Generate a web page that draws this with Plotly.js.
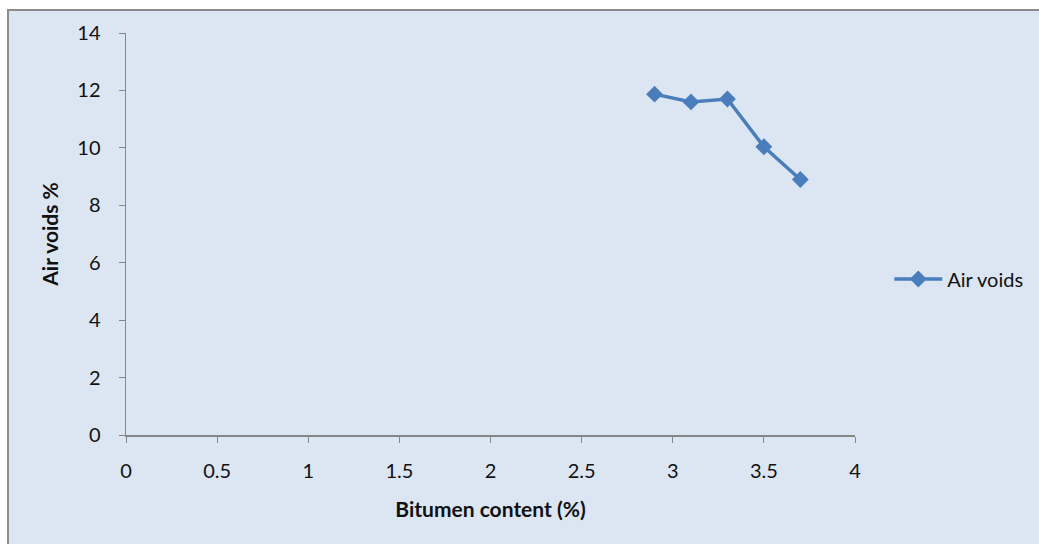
<!DOCTYPE html>
<html>
<head>
<meta charset="utf-8">
<script src="https://cdn.plot.ly/plotly-3.0.1.min.js"></script>
<style>
  html, body { margin: 0; padding: 0; background: #ffffff; width: 1039px; height: 544px; overflow: hidden; }
  #frame { position: absolute; left: 7px; top: 9px; width: 1032px; height: 535px;
           border-left: 2px solid #8c8c8c; border-top: 2px solid #8c8c8c; background: #dce6f2; }
  #chart { width: 1030px; height: 533px; }
</style>
</head>
<body>
<div id="frame"><div id="chart"></div></div>
<script>
// Bitumen content (%) against air voids (%)
const bitumenContent = [2.9, 3.1, 3.3, 3.5, 3.7];
const airVoids = [11.87, 11.6, 11.7, 10.04, 8.9];
const seriesName = 'Air voids';
const xTicks = [0, 0.5, 1, 1.5, 2, 2.5, 3, 3.5, 4];
const yTicks = [0, 2, 4, 6, 8, 10, 12, 14];

const axisColor = '#868686';
const fontFamily = 'Lato, Liberation Sans, sans-serif';

const trace = {
  x: bitumenContent,
  y: airVoids,
  name: seriesName,
  type: 'scatter',
  mode: 'lines+markers',
  line: { color: '#4a7ebb', width: 3.5 },
  marker: { symbol: 'diamond', size: 13, color: '#4a7ebb' },
  showlegend: true
};

const layout = {
  width: 1030,
  height: 533,
  margin: { l: 117, r: 184, t: 22, b: 109, autoexpand: false },
  paper_bgcolor: '#dce6f2',
  plot_bgcolor: '#dce6f2',
  font: { family: fontFamily, size: 20, color: '#111111' },
  xaxis: {
    range: [0, 4],
    tickvals: xTicks,
    ticktext: xTicks.map(String),
    showgrid: false,
    zeroline: false,
    showline: true,
    linecolor: axisColor,
    linewidth: 1.5,
    ticks: 'outside',
    ticklen: 6,
    tickcolor: axisColor,
    ticklabelstandoff: 11,
    tickfont: { size: 20 },
    automargin: false,
    title: { text: '<b>Bitumen content (%)</b>', font: { size: 21 }, standoff: 22 }
  },
  yaxis: {
    range: [0, 14],
    tickvals: yTicks,
    ticktext: yTicks.map(String),
    showgrid: false,
    zeroline: false,
    showline: true,
    linecolor: axisColor,
    linewidth: 1.5,
    ticks: 'outside',
    ticklen: 6,
    tickcolor: axisColor,
    ticklabelstandoff: 14,
    tickfont: { size: 20 },
    automargin: false,
    title: { text: '<b>Air voids %</b>', font: { size: 21 }, standoff: 13 }
  },
  legend: {
    x: 1.047,
    xanchor: 'left',
    y: 0.388,
    yanchor: 'middle',
    bgcolor: 'rgba(0,0,0,0)',
    font: { size: 20 },
    itemwidth: 48
  }
};

Plotly.newPlot('chart', [trace], layout, { displayModeBar: false, staticPlot: true });
</script>
</body>
</html>
